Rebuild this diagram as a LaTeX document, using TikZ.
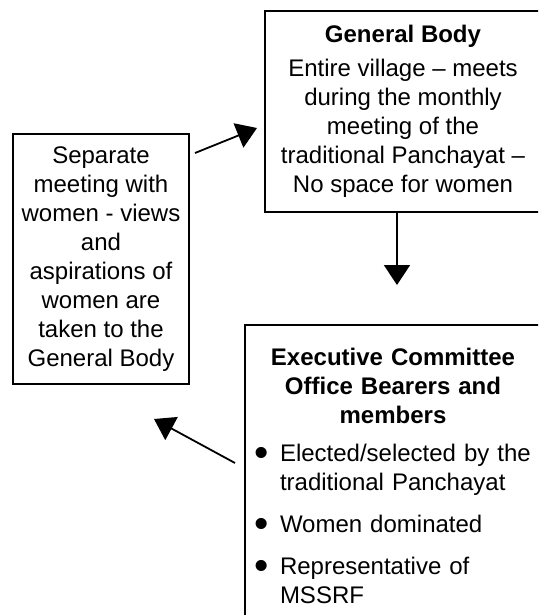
\documentclass[tikz,border=0pt]{standalone}
\usepackage{fontspec}
\setmainfont{Liberation Sans}
\usepackage{tikz}
\usetikzlibrary{arrows.meta}
\tikzstyle{block} = [rectangle, draw=black, line width=2pt, fill=white, inner sep=0pt, font=\fontsize{24}{29}\selectfont]
\tikzstyle{arrow} = [line width=1.8pt, -{Triangle[length=20pt, width=26pt]}]
\newcommand{\blt}{\makebox[26pt][l]{\raisebox{-5pt}{\scalebox{1.7}{\textbullet}}}}
\newcommand{\headline}[1]{\makebox[278pt][c]{\bfseries #1}}

\begin{document}
\begin{tikzpicture}[x=1pt, y=-1pt]
        \clip (0,0) rectangle (538,615);
        % Nodes
        \node (gb) [block, anchor=north west, minimum width=276pt, minimum height=201pt, align=center] at (264,10) {{\bfseries General Body}\\[5pt] Entire village – meets\\ during the monthly\\ meeting of the\\ traditional Panchayat –\\ No space for women};
        \node (sep) [block, anchor=north west, minimum width=176pt, minimum height=250pt, align=center] at (12,133) {Separate\\ meeting with\\ women - views\\ and\\ aspirations of\\ women are\\ taken to the\\ General Body};
        \node (exec) [block, anchor=north west, text width=278pt, inner xsep=9pt, inner ysep=23pt, align=left] at (244,324) {\headline{Executive Committee}\\ \headline{Office Bearers and}\\ \headline{members}\\[9pt] \blt Elected/selected by the\\ \hspace*{26pt}traditional Panchayat\\[13pt] \blt Women dominated\\[13pt] \blt Representative of\\ \hspace*{26pt}MSSRF};
        \coordinate (gbdrop) at ([xshift=-6pt]gb.south);

        % Arrows
        \draw [arrow] ([xshift=5pt, yshift=-20pt]sep.north east) -- ([xshift=-7pt, yshift=-118pt]gb.north west);
        \draw [arrow] (gbdrop) -- ++(0,72);
        \draw [arrow] ([xshift=-9pt, yshift=-139pt]exec.north west) -- ([xshift=-36pt, yshift=-34pt]sep.south east);
\end{tikzpicture}
\end{document}
